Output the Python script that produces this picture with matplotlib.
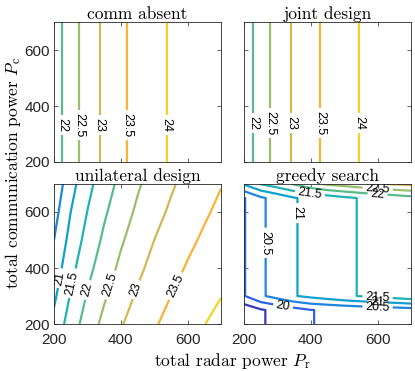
import numpy as np
import matplotlib
matplotlib.use('Agg')
import matplotlib.pyplot as plt
from matplotlib.colors import LinearSegmentedColormap, Normalize

plt.rcParams['font.family'] = 'cmr10'
plt.rcParams['mathtext.fontset'] = 'cm'
plt.rcParams['axes.unicode_minus'] = False

# radar power grid (x) shared by the 1-D panels and greedy search
pr = [200, 250, 300, 350, 400, 450, 500, 550, 600, 650, 700]
pc_flat = [200, 700]

# values only depend on radar power
comm_absent = [21.74, 22.28, 22.73, 23.10, 23.40, 23.66, 23.85, 24.05, 24.21, 24.36, 24.48]
joint_design = [21.73, 22.24, 22.70, 23.07, 23.36, 23.61, 23.82, 24.02, 24.19, 24.34, 24.47]

# unilateral design table (rows: Pc, cols: Pr)
uni_pr = [200, 250, 300, 350, 400, 450, 500, 550, 600, 650, 700]
uni_pc = [200, 300, 400, 500, 600, 700]
unilateral = [
    [21.13, 21.74, 22.23, 22.63, 22.96, 23.22, 23.45, 23.65, 23.83, 23.99, 24.14],
    [20.91, 21.54, 22.04, 22.44, 22.77, 23.06, 23.29, 23.50, 23.68, 23.84, 23.99],
    [20.70, 21.35, 21.85, 22.26, 22.60, 22.90, 23.14, 23.35, 23.54, 23.70, 23.85],
    [20.50, 21.17, 21.67, 22.09, 22.44, 22.73, 23.00, 23.21, 23.40, 23.57, 23.72],
    [20.31, 21.00, 21.51, 21.93, 22.28, 22.58, 22.85, 23.07, 23.26, 23.44, 23.60],
    [20.13, 20.82, 21.35, 21.77, 22.13, 22.44, 22.70, 22.94, 23.14, 23.31, 23.48],
]

# greedy search: low Pc rows, middle rows, top row
greedy_pc = [200, 250, 300, 350, 400, 450, 500, 550, 600, 650, 700]
greedy_low = [19.16, 19.45, 19.63, 19.81, 19.99, 20.04, 20.09, 20.14, 20.19, 20.23, 20.28]
greedy_mid = [19.97, 20.42, 20.69, 20.97, 21.12, 21.26, 21.41, 21.53, 21.62, 21.73, 21.85]
greedy_top = [21.05, 21.51, 21.77, 22.04, 22.35, 22.57, 22.69, 22.82, 22.94, 23.04, 23.10]

levels = [19.5, 20, 20.5, 21, 21.5, 22, 22.5, 23, 23.5, 24]
titles = ['comm absent', 'joint design', 'unilateral design', 'greedy search']

parula = LinearSegmentedColormap.from_list('parula', [
    (0.00, '#3E26A8'), (0.12, '#2F5CE8'), (0.25, '#1A8ADB'), (0.37, '#0AAAC8'),
    (0.48, '#32B8A0'), (0.58, '#7DBF78'), (0.70, '#C8B95A'), (0.82, '#FDB036'),
    (0.92, '#F3D41F'), (1.00, '#F9FB0E')])
norm = Normalize(vmin=19.3, vmax=24.4)

greedy = np.vstack([greedy_low, greedy_low] + [greedy_mid] * 8 + [greedy_top])

panels = [
    (pr, pc_flat, np.tile(comm_absent, (2, 1)),
     [(x, 332) for x in [224, 271, 333, 416, 535]]),
    (pr, pc_flat, np.tile(joint_design, (2, 1)),
     [(x, 340) for x in [226, 276, 339, 426, 545]]),
    (uni_pr, uni_pc, np.array(unilateral),
     [(220, 363), (257, 345), (303, 321), (370, 339), (449, 321), (569, 333)]),
    (pr, greedy_pc, greedy,
     [(317, 264), (263, 490), (359, 596), (397, 664), (600, 261), (600, 279),
      (600, 296), (600, 664), (600, 683)]),
]

fig = plt.figure(figsize=(4.15, 3.71), dpi=100)
lefts = [54 / 415, 244 / 415]
bottoms = [(371 - 162) / 371, (371 - 324) / 371]
w, h = 167 / 415, 140 / 371

for i, (xs, ys, z, lab_pos) in enumerate(panels):
    r, c = divmod(i, 2)
    ax = fig.add_axes([lefts[c], bottoms[r], w, h])
    X, Y = np.meshgrid(xs, ys)
    cs = ax.contour(X, Y, z, levels=levels, cmap=parula, norm=norm, linewidths=1.6)
    with plt.rc_context({'font.family': 'Liberation Sans'}):
        ax.clabel(cs, manual=lab_pos, inline=True, fmt='%g', fontsize=9,
                  inline_spacing=3, colors='k')
    ax.set_xlim(200, 700)
    ax.set_ylim(200, 700)
    ax.set_xticks([200, 400, 600])
    ax.set_yticks([200, 400, 600])
    ax.tick_params(direction='in', top=True, right=True, length=3, width=0.5,
                   labelsize=11, labelfontfamily='Liberation Sans', pad=3,
                   colors='#262626')
    ax.tick_params(axis='x', pad=6.5)
    if r == 0:
        ax.set_xticklabels([])
    if c == 1:
        ax.set_yticklabels([])
    for s in ax.spines.values():
        s.set_color('#262626')
        s.set_linewidth(0.6)
    ax.set_title(titles[i], fontsize=12.5, pad=2)

fig.text(0.031, 0.534, r'total communication power $P_\mathrm{c}$', rotation=90,
         ha='center', va='center', fontsize=12.5)
fig.text(0.56, 0.026, r'total radar power $P_\mathrm{r}$', ha='center', va='center',
         fontsize=12.5)

fig.savefig('out.png', dpi=100)
